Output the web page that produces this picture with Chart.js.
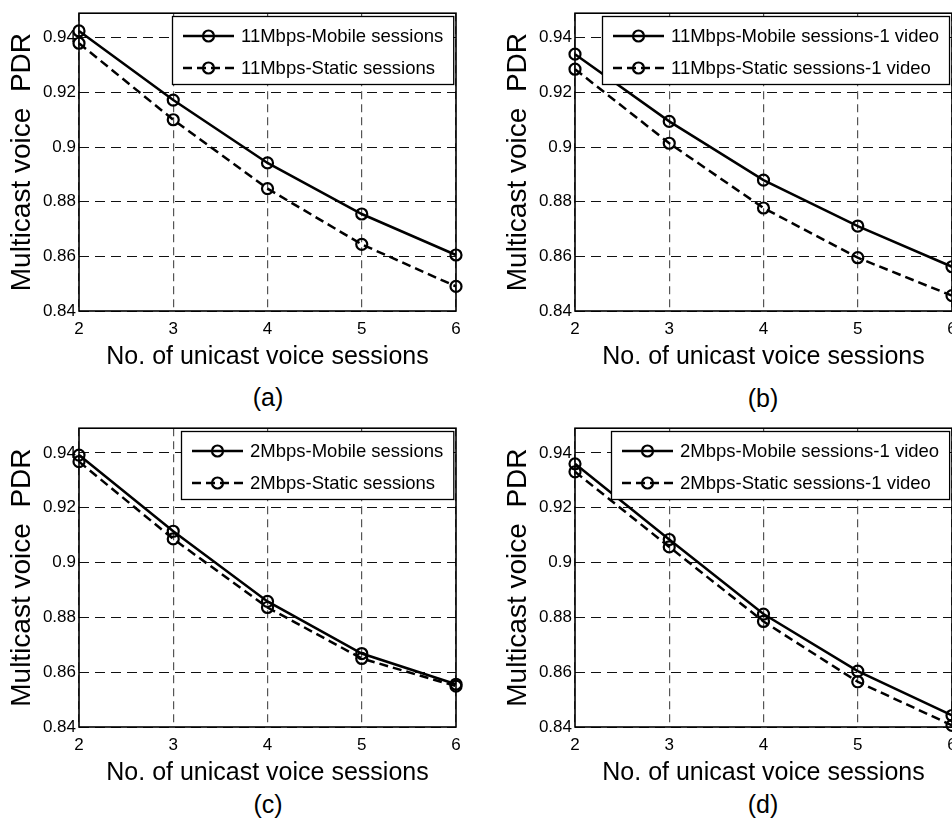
<!DOCTYPE html>
<html>
<head>
<meta charset="utf-8">
<title>Multicast voice PDR</title>
<script src="https://cdn.jsdelivr.net/npm/chart.js@4.4.1/dist/chart.umd.min.js"></script>
<style>
  html, body { margin: 0; padding: 0; background: #fff; overflow: hidden; width: 952px; height: 823px; }
  canvas { position: absolute; }
  .caption { position: absolute; font: 25px "Liberation Sans", Arial, sans-serif; color: #000; transform: translate(-50%, -50%); }
</style>
</head>
<body>
<canvas id="chartA" width="470" height="371" style="left:0;top:0"></canvas>
<canvas id="chartB" width="470" height="371" style="left:496px;top:0"></canvas>
<canvas id="chartC" width="470" height="372" style="left:0;top:415px"></canvas>
<canvas id="chartD" width="470" height="372" style="left:496px;top:415px"></canvas>
<div class="caption" style="left:268px;top:397px">(a)</div>
<div class="caption" style="left:763px;top:398px">(b)</div>
<div class="caption" style="left:268px;top:804px">(c)</div>
<div class="caption" style="left:763px;top:804px">(d)</div>
<script>
// x: number of unicast voice sessions
const sessions = [2, 3, 4, 5, 6];
const yTicks = [0.84, 0.86, 0.88, 0.9, 0.92, 0.94];

// (a) 11 Mbps
const mobile11 = [0.9425, 0.9172, 0.8942, 0.8755, 0.8605];
const static11 = [0.938, 0.910, 0.8848, 0.8644, 0.849];
// (b) 11 Mbps with 1 video
const mobile11Video = [0.934, 0.9094, 0.8879, 0.8711, 0.8562];
const static11Video = [0.9285, 0.9014, 0.8777, 0.8595, 0.8456];
// (c) 2 Mbps
const mobile2 = [0.9392, 0.9114, 0.8858, 0.8668, 0.8556];
const static2 = [0.9368, 0.9086, 0.8836, 0.865, 0.8549];
// (d) 2 Mbps with 1 video
const mobile2Video = [0.936, 0.9084, 0.8812, 0.8604, 0.8442];
const static2Video = [0.9331, 0.9057, 0.8785, 0.8565, 0.8406];

const FONT = '"Liberation Sans", Arial, sans-serif';
Chart.defaults.font.family = FONT;
Chart.defaults.color = '#000';

// box around the plot area
const frame = {
    id: 'frame',
    afterDatasetsDraw(chart) {
        const a = chart.chartArea;
        const ctx = chart.ctx;
        ctx.save();
        ctx.strokeStyle = '#000';
        ctx.lineWidth = 1.6;
        ctx.strokeRect(a.left, a.top, a.right - a.left, a.bottom - a.top);
        ctx.restore();
    }
};

// matlab style legend box, top right inside the plot
const boxLegend = {
    id: 'boxLegend',
    afterDatasetsDraw(chart) {
        const ctx = chart.ctx;
        const a = chart.chartArea;
        const sets = chart.data.datasets;
        ctx.save();
        ctx.font = '18.5px ' + FONT;
        const textW = Math.max(...sets.map(d => ctx.measureText(d.label).width));
        const w = 11 + 51 + 7 + textW + 10;
        const h = 68;
        const x = Math.round(a.right - 3 - w);
        const y = Math.round(a.top + 3);
        ctx.fillStyle = '#fff';
        ctx.fillRect(x, y, w, h);
        ctx.strokeStyle = '#000';
        ctx.lineWidth = 1.3;
        ctx.strokeRect(x + 0.5, y + 0.5, w, h);
        sets.forEach((d, i) => {
            const cy = y + 20 + i * 32;
            const x0 = x + 11, x1 = x0 + 51;
            ctx.lineWidth = d.borderWidth;
            ctx.setLineDash(d.borderDash || []);
            ctx.beginPath();
            ctx.moveTo(x0, cy);
            ctx.lineTo(x1, cy);
            ctx.stroke();
            ctx.setLineDash([]);
            ctx.lineWidth = d.pointBorderWidth;
            ctx.beginPath();
            ctx.arc((x0 + x1) / 2, cy, d.pointRadius, 0, Math.PI * 2);
            ctx.stroke();
            ctx.fillStyle = '#000';
            ctx.textBaseline = 'middle';
            ctx.fillText(d.label, x1 + 7, cy + 1);
        });
        ctx.restore();
    }
};

function series(label, data, dashed) {
    return {
        label: label,
        data: data,
        borderColor: '#000',
        borderWidth: 2.5,
        borderDash: dashed ? [9, 5] : [],
        pointRadius: 5.5,
        pointBorderWidth: 2.2,
        pointBackgroundColor: 'rgba(0,0,0,0)',
        pointBorderColor: '#000',
        tension: 0,
        fill: false,
        clip: false
    };
}

function makeChart(id, mobileLabel, mobile, staticLabel, stat) {
    const ctx = document.getElementById(id).getContext('2d');
    return new Chart(ctx, {
        type: 'line',
        data: {
            labels: sessions.map(String),
            datasets: [series(mobileLabel, mobile, false), series(staticLabel, stat, true)]
        },
        options: {
            responsive: false,
            animation: false,
            devicePixelRatio: 1,
            layout: { padding: { top: 12, right: 14, left: 0, bottom: 0 } },
            plugins: { legend: { display: false }, tooltip: { enabled: false } },
            scales: {
                x: {
                    type: 'category',
                    offset: false,
                    afterFit: s => { s.height = 60; },
                    grid: { color: '#555', lineWidth: 1.2, drawTicks: false },
                    border: { display: false, dash: [8, 5] },
                    ticks: { padding: 8, font: { size: 17 }, maxRotation: 0 },
                    title: {
                        display: true,
                        text: 'No. of unicast voice sessions',
                        font: { size: 25, lineHeight: 1 },
                        padding: { top: 0, bottom: 1 }
                    }
                },
                y: {
                    min: 0.84,
                    max: 0.949,
                    afterFit: s => { s.width = 79; },
                    afterBuildTicks: s => { s.ticks = yTicks.map(v => ({ value: v })); },
                    grid: { color: '#111', lineWidth: 1, drawTicks: false },
                    border: { display: false, dash: [10, 6] },
                    ticks: {
                        padding: 3,
                        font: { size: 17 },
                        callback: v => String(+Number(v).toFixed(2))
                    },
                    title: {
                        display: true,
                        text: 'Multicast voice  PDR',
                        font: { size: 28 },
                        padding: { top: 5, bottom: 0 }
                    }
                }
            }
        },
        plugins: [frame, boxLegend]
    });
}

document.addEventListener('DOMContentLoaded', () => {
    makeChart('chartA', '11Mbps-Mobile sessions', mobile11, '11Mbps-Static sessions', static11);
    makeChart('chartB', '11Mbps-Mobile sessions-1 video', mobile11Video, '11Mbps-Static sessions-1 video', static11Video);
    makeChart('chartC', '2Mbps-Mobile sessions', mobile2, '2Mbps-Static sessions', static2);
    makeChart('chartD', '2Mbps-Mobile sessions-1 video', mobile2Video, '2Mbps-Static sessions-1 video', static2Video);
});
</script>
</body>
</html>
